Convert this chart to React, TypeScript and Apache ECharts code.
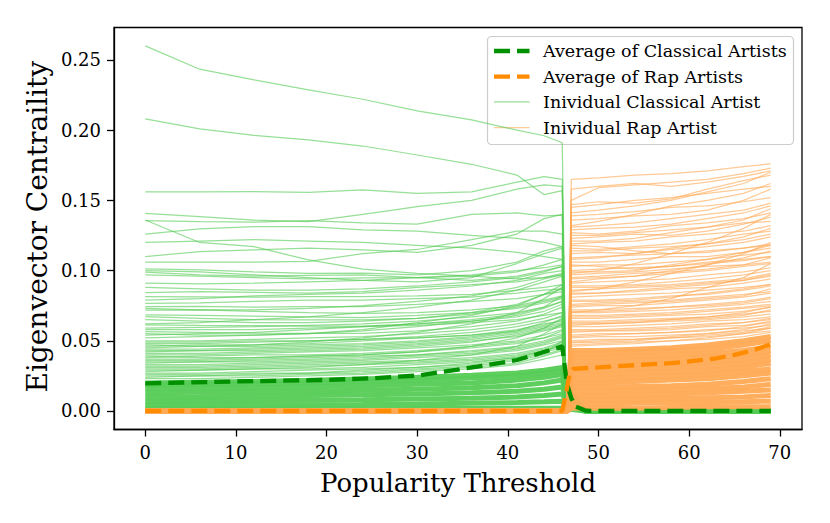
import React, { useEffect, useRef } from "react";
import * as echarts from "echarts";

// ---------- axes ----------
const X_TICKS = [0, 10, 20, 30, 40, 50, 60, 70];
const Y_TICKS = [0, 0.05, 0.1, 0.15, 0.2, 0.25];

// ---------- averages ----------
const AVG_CLASSICAL_X = [0, 10, 20, 25, 30, 35, 38, 41, 43, 45, 46, 46.5, 47, 47.5, 48.5, 49, 69];
const AVG_CLASSICAL = [0.0197, 0.021, 0.0221, 0.0233, 0.0252, 0.03, 0.033, 0.0363, 0.04, 0.044, 0.046, 0.02, 0.009, 0.003, 0.0005, 0, 0];
const AVG_RAP_X = [0, 46, 46.4, 46.8, 47.2, 50, 55, 58, 61, 63, 65, 67, 69];
const AVG_RAP = [0, 0, 0.012, 0.026, 0.03, 0.031, 0.033, 0.034, 0.036, 0.0375, 0.04, 0.043, 0.0475];

// ---------- individual classical artists ----------
const CLASSICAL_X = [0, 6, 12, 18, 24, 30, 36, 41, 44, 46, 46.4];
const CLASSICAL_TAIL = [[48.5, 0], [69, 0]];
const CLASSICAL_THIN = [
  [0.26, 0.2434, 0.2358, 0.2286, 0.222, 0.2137, 0.2073, 0.2, 0.196, 0.191, 0.02],
  [0.208, 0.2009, 0.1963, 0.193, 0.1887, 0.1823, 0.1757, 0.168, 0.154, 0.157, 0.015],
  [0.156, 0.156, 0.1562, 0.1557, 0.1574, 0.155, 0.156, 0.163, 0.1669, 0.165, 0.014],
  [0.1408, 0.1384, 0.136, 0.1348, 0.14, 0.1455, 0.15, 0.158, 0.161, 0.16, 0.014],
  [0.1356, 0.1348, 0.1345, 0.1355, 0.134, 0.133, 0.14, 0.141, 0.139, 0.1395, 0.012],
  [0.136, 0.12, 0.117, 0.1076, 0.101, 0.098, 0.096, 0.094, 0.095, 0.098, 0.01],
  [0.126, 0.1296, 0.1313, 0.1313, 0.1289, 0.128, 0.125, 0.123, 0.12, 0.117, 0.01],
  [0.12, 0.121, 0.122, 0.121, 0.12, 0.118, 0.116, 0.113, 0.11, 0.108, 0.01],
  [0.11, 0.1135, 0.1147, 0.1159, 0.1147, 0.113, 0.118, 0.126, 0.137, 0.14, 0.012],
  [0.106, 0.106, 0.106, 0.1065, 0.112, 0.115, 0.122, 0.128, 0.128, 0.126, 0.011],
  [0.1012, 0.1005, 0.099, 0.098, 0.0982, 0.097, 0.1, 0.106, 0.114, 0.117, 0.01],
  [0.1, 0.099, 0.097, 0.095, 0.093, 0.092, 0.095, 0.105, 0.112, 0.116, 0.01],
  [0.0989, 0.097, 0.096, 0.0965, 0.097, 0.095, 0.093, 0.096, 0.1, 0.103, 0.009],
  [0.097, 0.096, 0.095, 0.094, 0.0948, 0.095, 0.096, 0.099, 0.104, 0.108, 0.01],
  [0.091, 0.0905, 0.091, 0.092, 0.093, 0.095, 0.097, 0.1, 0.102, 0.104, 0.009],
  [0.088, 0.087, 0.086, 0.086, 0.087, 0.089, 0.092, 0.095, 0.099, 0.103, 0.009],
  [0.0843, 0.085, 0.0845, 0.084, 0.085, 0.088, 0.09, 0.092, 0.095, 0.097, 0.009],
  [0.0814, 0.0812, 0.081, 0.0814, 0.0814, 0.082, 0.083, 0.086, 0.088, 0.09, 0.008],
  [0.079, 0.08, 0.082, 0.083, 0.084, 0.086, 0.089, 0.093, 0.098, 0.1, 0.009],
  [0.0767, 0.077, 0.078, 0.079, 0.079, 0.08, 0.081, 0.084, 0.086, 0.087, 0.008],
  [0.0743, 0.0745, 0.074, 0.0743, 0.0743, 0.076, 0.078, 0.08, 0.083, 0.085, 0.008],
  [0.073, 0.072, 0.072, 0.073, 0.075, 0.078, 0.082, 0.088, 0.094, 0.097, 0.009],
  [0.0719, 0.072, 0.071, 0.07, 0.0695, 0.07, 0.072, 0.075, 0.079, 0.082, 0.008],
  [0.0684, 0.068, 0.0675, 0.067, 0.0665, 0.068, 0.07, 0.073, 0.077, 0.08, 0.007],
  [0.0672, 0.066, 0.065, 0.0648, 0.0648, 0.066, 0.069, 0.074, 0.078, 0.081, 0.007],
  [0.065, 0.064, 0.063, 0.063, 0.064, 0.066, 0.07, 0.076, 0.083, 0.087, 0.008],
  [0.062, 0.063, 0.065, 0.067, 0.07, 0.074, 0.079, 0.086, 0.092, 0.096, 0.009],
  [0.0613, 0.061, 0.0608, 0.0605, 0.0605, 0.062, 0.064, 0.067, 0.071, 0.076, 0.007],
  [0.059, 0.0595, 0.06, 0.061, 0.062, 0.064, 0.067, 0.07, 0.074, 0.078, 0.007],
  [0.058, 0.058, 0.058, 0.059, 0.06, 0.061, 0.063, 0.065, 0.068, 0.07, 0.006],
  [0.0565, 0.056, 0.0555, 0.0553, 0.0553, 0.057, 0.06, 0.064, 0.069, 0.074, 0.007],
  [0.055, 0.054, 0.054, 0.055, 0.058, 0.063, 0.068, 0.075, 0.083, 0.09, 0.008],
  [0.054, 0.055, 0.056, 0.058, 0.06, 0.062, 0.065, 0.069, 0.074, 0.082, 0.007],
  [0.052, 0.053, 0.054, 0.055, 0.057, 0.06, 0.064, 0.068, 0.073, 0.078, 0.007],
  [0.05, 0.05, 0.051, 0.052, 0.053, 0.055, 0.058, 0.062, 0.066, 0.07, 0.006],
  [0.049, 0.049, 0.05, 0.05, 0.051, 0.052, 0.054, 0.058, 0.062, 0.064, 0.006],
  [0.048, 0.048, 0.049, 0.05, 0.051, 0.053, 0.056, 0.06, 0.064, 0.067, 0.006],
  [0.047, 0.046, 0.046, 0.047, 0.048, 0.05, 0.053, 0.057, 0.063, 0.068, 0.006],
  [0.046, 0.047, 0.047, 0.048, 0.05, 0.052, 0.054, 0.057, 0.061, 0.065, 0.006],
  [0.045, 0.046, 0.047, 0.049, 0.052, 0.056, 0.062, 0.07, 0.08, 0.088, 0.008],
  [0.044, 0.044, 0.045, 0.046, 0.047, 0.049, 0.052, 0.056, 0.06, 0.063, 0.006],
  [0.043, 0.043, 0.044, 0.045, 0.046, 0.048, 0.051, 0.055, 0.059, 0.062, 0.005],
  [0.042, 0.043, 0.043, 0.044, 0.045, 0.047, 0.05, 0.053, 0.057, 0.06, 0.005],
  [0.041, 0.041, 0.042, 0.043, 0.044, 0.046, 0.049, 0.054, 0.058, 0.061, 0.005],
  [0.04, 0.04, 0.041, 0.042, 0.043, 0.045, 0.047, 0.05, 0.054, 0.058, 0.005],
  [0.039, 0.038, 0.038, 0.039, 0.04, 0.042, 0.046, 0.052, 0.059, 0.066, 0.006],
  [0.038, 0.039, 0.04, 0.04, 0.041, 0.043, 0.046, 0.049, 0.052, 0.055, 0.005],
  [0.037, 0.037, 0.038, 0.039, 0.04, 0.042, 0.045, 0.048, 0.052, 0.057, 0.005],
  [0.036, 0.036, 0.037, 0.038, 0.039, 0.04, 0.043, 0.046, 0.05, 0.054, 0.005],
  [0.035, 0.035, 0.036, 0.037, 0.038, 0.04, 0.042, 0.045, 0.049, 0.053, 0.005],
  [0.034, 0.035, 0.035, 0.036, 0.037, 0.039, 0.041, 0.044, 0.048, 0.052, 0.005],
  [0.033, 0.033, 0.034, 0.035, 0.036, 0.038, 0.04, 0.043, 0.047, 0.05, 0.004],
  [0.032, 0.032, 0.033, 0.034, 0.035, 0.036, 0.038, 0.041, 0.045, 0.049, 0.004],
  [0.031, 0.031, 0.032, 0.033, 0.034, 0.035, 0.037, 0.04, 0.044, 0.048, 0.004],
  [0.03, 0.03, 0.031, 0.032, 0.033, 0.034, 0.036, 0.039, 0.043, 0.046, 0.004],
  [0.029, 0.029, 0.03, 0.03, 0.031, 0.033, 0.035, 0.038, 0.042, 0.045, 0.004],
  [0.028, 0.029, 0.03, 0.031, 0.033, 0.036, 0.04, 0.046, 0.055, 0.062, 0.005],
  [0.027, 0.027, 0.028, 0.029, 0.03, 0.031, 0.034, 0.038, 0.043, 0.047, 0.006],
  [0.026, 0.026, 0.027, 0.027, 0.029, 0.031, 0.033, 0.037, 0.041, 0.05, 0.007],
  [0.025, 0.025, 0.026, 0.027, 0.028, 0.03, 0.032, 0.036, 0.04, 0.044, 0.006],
  [0.024, 0.025, 0.025, 0.026, 0.027, 0.029, 0.031, 0.034, 0.039, 0.043, 0.006],
  [0.023, 0.023, 0.024, 0.025, 0.026, 0.028, 0.03, 0.033, 0.037, 0.04, 0.006],
];
const CLASSICAL_DENSE = [
  [0.0015, 0.0015, 0.0015, 0.0015, 0.0016, 0.0017, 0.0018, 0.002, 0.002, 0.002, 0.0015],
  [0.004, 0.004, 0.0042, 0.0044, 0.0046, 0.005, 0.0055, 0.006, 0.0065, 0.007, 0.004],
  [0.007, 0.0072, 0.0074, 0.0077, 0.008, 0.0085, 0.009, 0.01, 0.011, 0.012, 0.007],
  [0.01, 0.0102, 0.0105, 0.011, 0.0115, 0.012, 0.013, 0.014, 0.0155, 0.017, 0.01],
  [0.013, 0.0133, 0.0137, 0.014, 0.0147, 0.0155, 0.0165, 0.018, 0.02, 0.022, 0.013],
  [0.016, 0.0163, 0.0167, 0.0172, 0.018, 0.019, 0.02, 0.022, 0.024, 0.026, 0.015],
  [0.0185, 0.019, 0.0195, 0.02, 0.021, 0.022, 0.0235, 0.025, 0.027, 0.029, 0.017],
  [0.02, 0.0205, 0.021, 0.0218, 0.0228, 0.024, 0.0255, 0.027, 0.029, 0.031, 0.018],
];

// ---------- individual rap artists ----------
const RAP_HEAD = [[0, 0], [46.6, 0]];
const RAP_X = [47, 50, 54, 58, 62, 66, 69];
const RAP_THIN = [
  [0.165, 0.166, 0.168, 0.169, 0.171, 0.174, 0.176],
  [0.158, 0.16, 0.162, 0.16, 0.163, 0.167, 0.171],
  [0.15, 0.159, 0.161, 0.163, 0.165, 0.169, 0.173],
  [0.147, 0.149, 0.148, 0.151, 0.158, 0.164, 0.168],
  [0.145, 0.147, 0.15, 0.152, 0.155, 0.158, 0.16],
  [0.141, 0.143, 0.146, 0.15, 0.156, 0.162, 0.17],
  [0.139, 0.14, 0.142, 0.145, 0.146, 0.149, 0.152],
  [0.136, 0.137, 0.139, 0.14, 0.143, 0.15, 0.158],
  [0.132, 0.135, 0.14, 0.146, 0.15, 0.155, 0.162],
  [0.131, 0.132, 0.134, 0.137, 0.14, 0.143, 0.148],
  [0.129, 0.13, 0.131, 0.133, 0.137, 0.141, 0.146],
  [0.127, 0.126, 0.128, 0.132, 0.134, 0.137, 0.141],
  [0.125, 0.125, 0.127, 0.129, 0.131, 0.134, 0.135],
  [0.123, 0.124, 0.126, 0.125, 0.128, 0.133, 0.138],
  [0.121, 0.121, 0.123, 0.127, 0.131, 0.136, 0.144],
  [0.119, 0.12, 0.121, 0.124, 0.126, 0.128, 0.132],
  [0.118, 0.117, 0.114, 0.112, 0.113, 0.116, 0.118],
  [0.116, 0.115, 0.117, 0.119, 0.122, 0.126, 0.128],
  [0.114, 0.114, 0.116, 0.117, 0.119, 0.122, 0.126],
  [0.112, 0.113, 0.112, 0.115, 0.117, 0.12, 0.124],
  [0.109, 0.11, 0.111, 0.112, 0.114, 0.116, 0.119],
  [0.108, 0.109, 0.112, 0.116, 0.119, 0.124, 0.13],
  [0.106, 0.106, 0.108, 0.11, 0.11, 0.113, 0.116],
  [0.104, 0.103, 0.101, 0.103, 0.106, 0.108, 0.11],
  [0.103, 0.104, 0.104, 0.106, 0.108, 0.111, 0.113],
  [0.1, 0.101, 0.102, 0.103, 0.105, 0.107, 0.11],
  [0.099, 0.099, 0.1, 0.104, 0.108, 0.113, 0.118],
  [0.098, 0.1, 0.105, 0.112, 0.12, 0.13, 0.14],
  [0.097, 0.098, 0.099, 0.101, 0.103, 0.104, 0.106],
  [0.095, 0.096, 0.098, 0.099, 0.101, 0.104, 0.109],
  [0.094, 0.095, 0.096, 0.098, 0.1, 0.103, 0.105],
  [0.092, 0.094, 0.096, 0.1, 0.104, 0.109, 0.114],
  [0.091, 0.092, 0.093, 0.094, 0.097, 0.099, 0.102],
  [0.089, 0.089, 0.09, 0.092, 0.094, 0.097, 0.1],
  [0.088, 0.088, 0.089, 0.09, 0.092, 0.094, 0.098],
  [0.086, 0.087, 0.088, 0.089, 0.091, 0.093, 0.096],
  [0.085, 0.087, 0.092, 0.098, 0.104, 0.112, 0.12],
  [0.084, 0.084, 0.085, 0.087, 0.088, 0.091, 0.094],
  [0.083, 0.084, 0.086, 0.088, 0.09, 0.093, 0.097],
  [0.081, 0.082, 0.083, 0.084, 0.086, 0.088, 0.09],
  [0.079, 0.079, 0.08, 0.082, 0.083, 0.086, 0.089],
  [0.078, 0.078, 0.079, 0.081, 0.084, 0.087, 0.09],
  [0.076, 0.077, 0.078, 0.079, 0.081, 0.083, 0.085],
  [0.075, 0.076, 0.077, 0.078, 0.08, 0.082, 0.087],
  [0.074, 0.075, 0.075, 0.077, 0.079, 0.081, 0.084],
  [0.072, 0.072, 0.073, 0.074, 0.076, 0.078, 0.081],
  [0.071, 0.071, 0.072, 0.074, 0.075, 0.077, 0.08],
  [0.07, 0.072, 0.075, 0.08, 0.088, 0.095, 0.105],
  [0.07, 0.07, 0.071, 0.072, 0.074, 0.076, 0.078],
  [0.068, 0.068, 0.069, 0.07, 0.072, 0.074, 0.076],
  [0.067, 0.067, 0.068, 0.069, 0.071, 0.073, 0.075],
  [0.066, 0.066, 0.067, 0.068, 0.069, 0.071, 0.074],
  [0.064, 0.064, 0.065, 0.066, 0.067, 0.069, 0.071],
  [0.063, 0.063, 0.064, 0.065, 0.066, 0.068, 0.072],
  [0.062, 0.062, 0.063, 0.064, 0.065, 0.067, 0.069],
  [0.061, 0.062, 0.063, 0.065, 0.067, 0.07, 0.074],
  [0.06, 0.06, 0.061, 0.062, 0.064, 0.065, 0.067],
  [0.058, 0.058, 0.059, 0.06, 0.062, 0.063, 0.065],
  [0.057, 0.057, 0.058, 0.059, 0.061, 0.063, 0.066],
  [0.056, 0.057, 0.057, 0.058, 0.06, 0.061, 0.063],
  [0.054, 0.055, 0.055, 0.056, 0.058, 0.059, 0.061],
  [0.053, 0.054, 0.055, 0.056, 0.057, 0.06, 0.064],
  [0.052, 0.053, 0.053, 0.054, 0.055, 0.057, 0.059],
  [0.05, 0.051, 0.051, 0.052, 0.053, 0.055, 0.057],
  [0.049, 0.05, 0.051, 0.053, 0.055, 0.058, 0.062],
  [0.0485, 0.049, 0.05, 0.052, 0.054, 0.056, 0.06],
  [0.047, 0.048, 0.049, 0.05, 0.051, 0.053, 0.056],
  [0.046, 0.047, 0.048, 0.05, 0.052, 0.055, 0.059],
];
const RAP_DENSE = [
  [0.002, 0.002, 0.002, 0.0025, 0.003, 0.003, 0.003],
  [0.005, 0.005, 0.0055, 0.006, 0.006, 0.0065, 0.007],
  [0.008, 0.008, 0.0085, 0.009, 0.0095, 0.01, 0.011],
  [0.011, 0.011, 0.0115, 0.012, 0.013, 0.014, 0.015],
  [0.014, 0.014, 0.0145, 0.015, 0.016, 0.017, 0.019],
  [0.017, 0.017, 0.0175, 0.018, 0.019, 0.021, 0.023],
  [0.02, 0.02, 0.021, 0.022, 0.023, 0.025, 0.027],
  [0.023, 0.023, 0.024, 0.025, 0.026, 0.028, 0.03],
  [0.026, 0.026, 0.027, 0.028, 0.029, 0.031, 0.034],
  [0.029, 0.029, 0.03, 0.031, 0.032, 0.034, 0.037],
  [0.032, 0.032, 0.033, 0.034, 0.035, 0.037, 0.04],
  [0.035, 0.035, 0.036, 0.037, 0.038, 0.04, 0.043],
  [0.038, 0.038, 0.039, 0.04, 0.041, 0.043, 0.046],
  [0.041, 0.041, 0.042, 0.043, 0.044, 0.047, 0.05],
  [0.043, 0.043, 0.044, 0.045, 0.047, 0.05, 0.053],
];

// ---------- legend ----------
const LEGEND_LABELS = [
  "Average of Classical Artists",
  "Average of Rap Artists",
  "Inividual Classical Artist",
  "Inividual Rap Artist",
];

const GREEN = "#55cc55";
const ORANGE = "#ffaa55";
const DARK_GREEN = "#009000";
const DARK_ORANGE = "#ff8c00";
const SERIF = "'DejaVu Serif', serif";
const THIN_W = 1.25;
const THIN_OP = 0.62;

function classicalData(vals: number[]) {
  return [...CLASSICAL_X.map((x, i) => [x, vals[i]]), ...CLASSICAL_TAIL];
}
function rapData(vals: number[]) {
  return [...RAP_HEAD, ...RAP_X.map((x, i) => [x, vals[i]])];
}
function lineSeries(name: string, data: number[][], color: string, width: number, opacity: number, extra: any = {}) {
  return {
    name,
    type: "line",
    data,
    symbol: "none",
    showSymbol: false,
    silent: true,
    animation: false,
    emphasis: { disabled: true },
    lineStyle: { color, width, opacity, ...extra },
  };
}

export default function App() {
  const ref = useRef<HTMLDivElement>(null);
  useEffect(() => {
    const chart = echarts.init(ref.current!, null, { renderer: "svg" });
    const series: any[] = [];
    CLASSICAL_DENSE.forEach((v) => series.push(lineSeries("Inividual Classical Artist", classicalData(v), GREEN, 5, 0.95)));
    CLASSICAL_THIN.forEach((v) => series.push(lineSeries("Inividual Classical Artist", classicalData(v), GREEN, THIN_W, THIN_OP)));
    RAP_DENSE.forEach((v) => series.push(lineSeries("Inividual Rap Artist", rapData(v), ORANGE, 5, 0.95)));
    RAP_THIN.forEach((v) => series.push(lineSeries("Inividual Rap Artist", rapData(v), ORANGE, THIN_W, THIN_OP)));
    series.push(
      lineSeries("Average of Classical Artists", AVG_CLASSICAL_X.map((x, i) => [x, AVG_CLASSICAL[i]]), DARK_GREEN, 4.3, 1, { type: [16, 7], cap: "butt" })
    );
    series.push(
      lineSeries("Average of Rap Artists", AVG_RAP_X.map((x, i) => [x, AVG_RAP[i]]), DARK_ORANGE, 4.3, 1, { type: [16, 7], cap: "butt" })
    );

    const legendX = 487.5;
    const legendY = 36.5;
    const rowY = [51, 76.7, 101.9, 127.7];
    const handleStyles = [
      { stroke: DARK_GREEN, lineWidth: 4.3, lineDash: [16, 7], opacity: 1 },
      { stroke: DARK_ORANGE, lineWidth: 4.3, lineDash: [16, 7], opacity: 1 },
      { stroke: GREEN, lineWidth: THIN_W, opacity: THIN_OP },
      { stroke: ORANGE, lineWidth: THIN_W, opacity: THIN_OP },
    ];
    const legendChildren: any[] = [
      {
        type: "rect",
        shape: { x: legendX, y: legendY, width: 306, height: 108, r: 4 },
        style: { fill: "rgba(255,255,255,0.8)", stroke: "#cccccc", lineWidth: 1.2 },
      },
    ];
    LEGEND_LABELS.forEach((label, i) => {
      legendChildren.push({
        type: "line",
        shape: { x1: 494, y1: rowY[i], x2: 529.5, y2: rowY[i] },
        style: { ...handleStyles[i], lineCap: "butt" },
      });
      legendChildren.push({
        type: "text",
        x: 543,
        y: rowY[i],
        style: { text: label, font: `17.5px ${SERIF}`, fill: "#000", align: "left", verticalAlign: "middle" },
      });
    });

    chart.setOption({
      animation: false,
      backgroundColor: "#ffffff",
      grid: {
        left: 114,
        top: 27.5,
        right: 28,
        bottom: 93.5,
        show: true,
        borderColor: "#000",
        borderWidth: 1.3,
        backgroundColor: "transparent",
      },
      xAxis: {
        type: "value",
        min: -3.45,
        max: 72.45,
        axisLine: { show: true, onZero: false, lineStyle: { color: "#000", width: 1.3 } },
        axisTick: { show: true, length: 7, customValues: X_TICKS, lineStyle: { color: "#000", width: 1.3 } },
        axisLabel: { customValues: X_TICKS, color: "#000", fontFamily: SERIF, fontSize: 18, margin: 13.5 },
        splitLine: { show: false },
      },
      yAxis: {
        type: "value",
        min: -0.0132,
        max: 0.2731,
        axisLine: { show: true, onZero: false, lineStyle: { color: "#000", width: 1.3 } },
        axisTick: { show: true, length: 7, customValues: Y_TICKS, lineStyle: { color: "#000", width: 1.3 } },
        axisLabel: {
          customValues: Y_TICKS,
          color: "#000",
          fontFamily: SERIF,
          fontSize: 18,
          margin: 13,
          formatter: (v: number) => v.toFixed(2),
        },
        splitLine: { show: false },
      },
      series,
      graphic: [
        {
          type: "text",
          x: 458,
          y: 482.5,
          style: { text: "Popularity Threshold", font: `26px ${SERIF}`, fill: "#000", align: "center", verticalAlign: "middle" },
        },
        {
          type: "text",
          x: 37,
          y: 226.7,
          rotation: Math.PI / 2,
          style: { text: "Eigenvector Centraility", font: `28px ${SERIF}`, fill: "#000", align: "center", verticalAlign: "middle" },
        },
        { type: "group", z: 100, children: legendChildren },
      ],
    });
    return () => chart.dispose();
  }, []);
  return <div ref={ref} style={{ position: "absolute", left: 0, top: 0, width: 830, height: 523 }} />;
}
